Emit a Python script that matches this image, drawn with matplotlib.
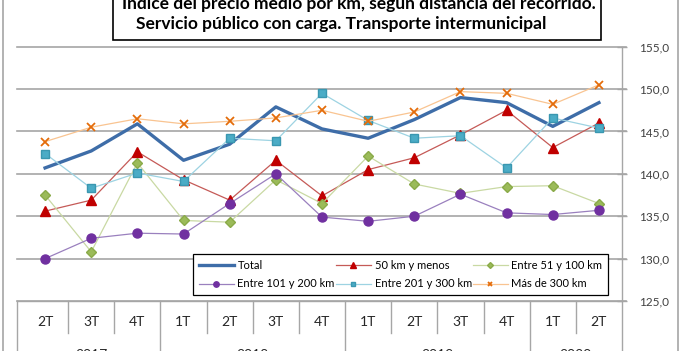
import numpy as np
import matplotlib
matplotlib.use("Agg")
import matplotlib.pyplot as plt
from matplotlib.patches import Rectangle
from matplotlib.lines import Line2D

plt.rcParams['font.family'] = ['Lato', 'DejaVu Sans']

quarters = ["2T", "3T", "4T", "1T", "2T", "3T", "4T", "1T", "2T", "3T", "4T", "1T", "2T"]
years = ["2017", "2018", "2019", "2020"]
year_spans = [(0, 2), (3, 6), (7, 10), (11, 12)]

total = [140.7, 142.7, 145.9, 141.6, 143.5, 147.9, 145.3, 144.2, 146.4, 149.0, 148.4, 145.6, 148.4]
km50 = [135.6, 136.9, 142.6, 139.3, 136.9, 141.6, 137.4, 140.5, 141.9, 144.6, 147.5, 143.1, 146.0]
km51_100 = [137.5, 130.8, 141.3, 134.5, 134.3, 139.3, 136.5, 142.1, 138.8, 137.7, 138.5, 138.6, 136.5]
km101_200 = [130.0, 132.4, 133.0, 132.9, 136.5, 140.0, 134.9, 134.4, 135.0, 137.6, 135.4, 135.2, 135.7]
km201_300 = [142.4, 138.3, 140.1, 139.1, 144.2, 143.9, 149.5, 146.3, 144.2, 144.5, 140.7, 146.6, 145.4]
km300 = [143.8, 145.5, 146.5, 145.9, 146.2, 146.6, 147.5, 146.2, 147.3, 149.7, 149.5, 148.2, 150.5]

W, H = 682, 351
fig = plt.figure(figsize=(W / 100, H / 100), dpi=100)

# plot area in pixels
px_l, px_r, px_t, px_b = 17, 622, 46.7, 301
ax = fig.add_axes([px_l / W, 1 - px_b / H, (px_r - px_l) / W, (px_b - px_t) / H])
ax_h = px_b - px_t

x = np.arange(len(quarters))
cat_w = (px_r - 22) / len(quarters)
x0 = -0.5 - (22 - px_l) / cat_w
ax.set_xlim(x0, len(quarters) - 0.5)
ax.set_ylim(125, 155)

series = [
    ("Total", total, dict(color="#3E6DA8", lw=2.4, marker=None)),
    ("50 km y menos", km50, dict(color="#C55A57", lw=0.9, marker="^", ms=6.5, mfc="#C00000", mec="#C00000")),
    ("Entre 51 y 100 km", km51_100, dict(color="#C9D9A3", lw=0.9, marker="D", ms=5, mfc="#9BBB59", mec="#8AAA48")),
    ("Entre 101 y 200 km", km101_200, dict(color="#9A80BE", lw=0.9, marker="o", ms=6.5, mfc="#7030A0", mec="#7030A0")),
    ("Entre 201 y 300 km", km201_300, dict(color="#9DD3E2", lw=0.9, marker="s", ms=5.5, mfc="#4BACC6", mec="#3A97B0")),
    ("Más de 300 km", km300, dict(color="#F9C491", lw=0.9, marker="x", ms=6, mfc="#E46C0A", mec="#E46C0A", mew=1.3)),
]
handles = {}
for name, vals, kw in series:
    ln, = ax.plot(x, vals, label=name, zorder=3, **kw)
    handles[name] = ln

# gridlines and axis
for v in range(125, 156, 5):
    ax.plot([x0, len(quarters) - 0.5 + 0.08], [v, v], color="#A6A6A6", lw=1.2,
            clip_on=False, zorder=1)
for s in ["left", "top", "bottom", "right"]:
    ax.spines[s].set_visible(False)
ax.yaxis.tick_right()
ax.set_yticks(range(125, 156, 5))
ax.set_yticklabels([f"{v},0" for v in range(125, 156, 5)])
ax.tick_params(axis="y", direction="inout", length=7, color="#A6A6A6", width=1,
               labelsize=8.5, pad=9, labelcolor="#404040")
ax.set_xticks([])

# category table below the plot
tc = "#A6A6A6"
bottom_fig = -(H - px_b + 5) / ax_h
q_sep = -(333 - px_b) / ax_h
trans = ax.get_xaxis_transform()
ax.plot([x0, len(quarters) - 0.5], [0, 0], color=tc, lw=1, transform=trans, clip_on=False)
ax.plot([len(quarters) - 0.5] * 2, [bottom_fig, 1], color=tc, lw=1, transform=trans, clip_on=False)
ax.plot([x0] * 2, [bottom_fig, 0], color=tc, lw=1, transform=trans, clip_on=False)
year_breaks = [e for _, e in year_spans[:-1]]
for k in range(len(quarters) - 1):
    lo = bottom_fig if k in year_breaks else q_sep
    ax.plot([k + 0.5] * 2, [lo, 0], color=tc, lw=1, transform=trans, clip_on=False)
for i, q in enumerate(quarters):
    ax.text(i, -(321.5 - px_b) / ax_h, q, transform=trans, ha="center", va="center",
            fontsize=10, color="#262626")
# year row is cut by the bottom edge, as in the source picture
for yr, (a, b) in zip(years, year_spans):
    ax.text((a + b) / 2, -(355 - px_b) / ax_h, yr, transform=trans, ha="center",
            va="center", fontsize=10, color="#262626")

# legend
order = ["Total", "Entre 101 y 200 km", "50 km y menos", "Entre 201 y 300 km",
         "Entre 51 y 100 km", "Más de 300 km"]
leg_l, leg_r, leg_t, leg_b = 193, 608, 250, 295
leg = ax.legend([handles[n] for n in order], order, ncol=3, loc="lower left",
                bbox_to_anchor=((leg_l - px_l) / (px_r - px_l), (px_b - leg_b) / ax_h,
                                (leg_r - leg_l) / (px_r - px_l), (leg_b - leg_t) / ax_h),
                mode="expand", fancybox=False, edgecolor="black", framealpha=1,
                fontsize=8, handlelength=3.2, markerscale=0.6, borderaxespad=0,
                borderpad=0.5, labelspacing=0.7, columnspacing=0.6, handletextpad=0.3)
leg.get_frame().set_linewidth(0.9)
leg.set_zorder(5)

# title box
fig.patches.append(Rectangle((113 / W, 1 - 40 / H), 488 / W, 50 / H, transform=fig.transFigure,
                             facecolor="white", edgecolor="black", lw=1.2, zorder=4))
fig.text(359 / W, 1 - 3 / H, "Índice del precio medio por km, según distancia del recorrido.",
         ha="center", va="center", fontsize=12.5, fontweight="bold", zorder=5)
fig.text(341 / W, 1 - 24 / H, "Servicio público con carga. Transporte intermunicipal",
         ha="center", va="center", fontsize=12.5, fontweight="bold", zorder=5)

# outer frame
for xp in (2.5, 678):
    fig.add_artist(Line2D([xp / W, xp / W], [0, 1], transform=fig.transFigure,
                          color="#A6A6A6", lw=1.2))

fig.savefig("out.png", dpi=100)
